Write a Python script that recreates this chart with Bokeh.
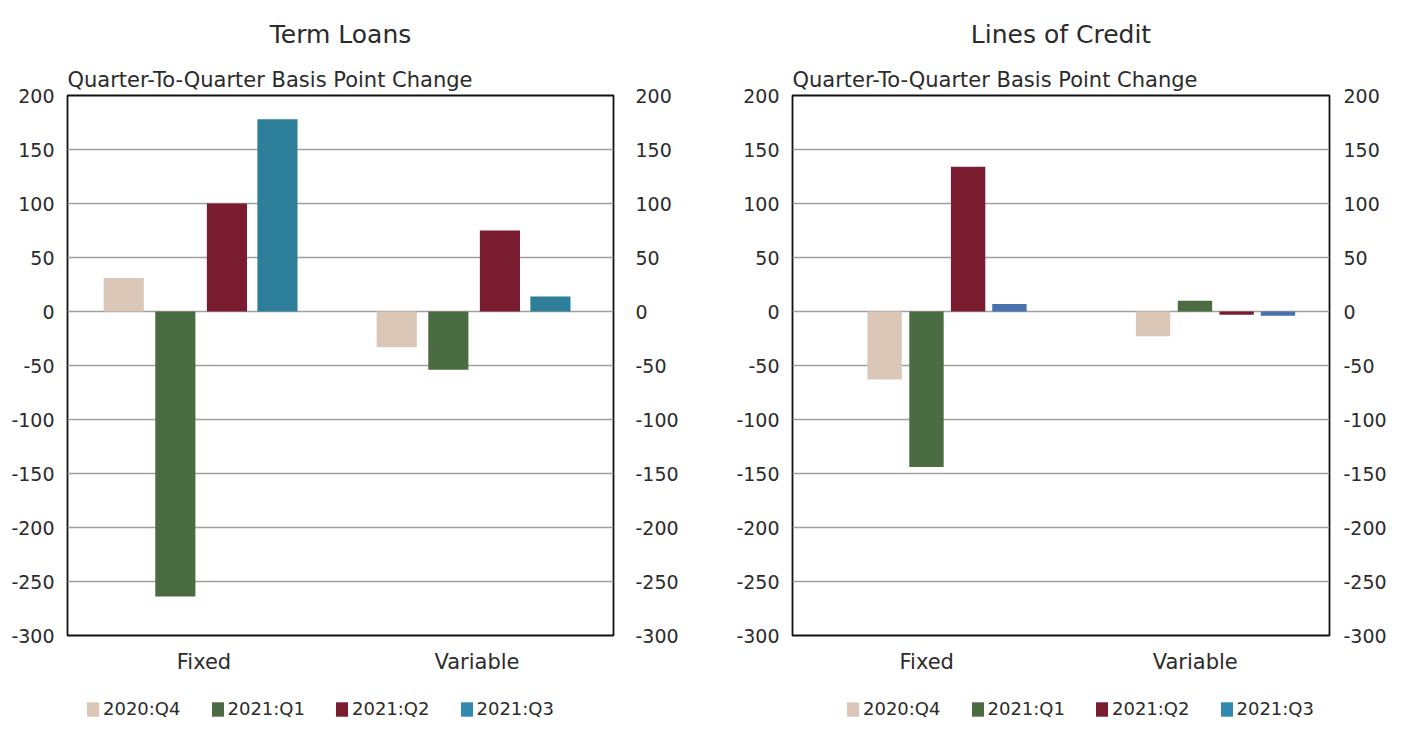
import numpy as np
from bokeh.plotting import figure
from bokeh.models import (ColumnDataSource, Range1d, FixedTicker, LinearAxis, Title,
                          Legend, LegendItem)
from bokeh.transform import dodge
from bokeh.layouts import row, column
from bokeh.embed import file_html
from bokeh.resources import INLINE

# ---------------- data ----------------
categories = ["Fixed", "Variable"]
quarters = ["2020:Q4", "2021:Q1", "2021:Q2", "2021:Q3"]

term_q4 = [31, -33]
term_q1 = [-264, -54]
term_q2 = [100, 75]
term_q3 = [178, 14]

loc_q4 = [-63, -23]
loc_q1 = [-144, 10]
loc_q2 = [134, -3]
loc_q3 = [7, -4]

y_ticks = [-300, -250, -200, -150, -100, -50, 0, 50, 100, 150, 200]
subtitle_text = "Quarter-To-Quarter Basis Point Change"

FONT = "DejaVu Sans"
TXT = "#2b2b2b"
C_Q4 = "#DAC7B8"
C_Q1 = "#4B6B42"
C_Q2 = "#7A1C2F"
C_Q3 = "#2D7E99"
C_Q3_LOC = "#4A70B0"
C_Q3_LEG = "#3289B0"
LEGEND_COLORS = [C_Q4, C_Q1, C_Q2, C_Q3_LEG]

MAIN_H = 687
LEG_H = 32


def make_panel(title, vals, width, bl, br, offsets, bar_w, q3_color, right_standoff):
    src = ColumnDataSource(dict(cat=categories, q4=vals[0], q1=vals[1], q2=vals[2], q3=vals[3]))
    p = figure(x_range=categories, y_range=Range1d(y_ticks[0], y_ticks[-1]),
               width=width, height=MAIN_H, output_backend="svg", toolbar_location=None,
               min_border_left=bl, min_border_right=br, min_border_top=95, min_border_bottom=52,
               title=None)
    p.add_layout(Title(text=subtitle_text, align="left", text_font=FONT, text_font_size="21px",
                       text_font_style="normal", text_color=TXT, standoff=7), "above")
    p.add_layout(Title(text=title, align="center", text_font=FONT, text_font_size="25px",
                       text_font_style="normal", text_color=TXT, standoff=28), "above")

    cols = ["q4", "q1", "q2", "q3"]
    colors = [C_Q4, C_Q1, C_Q2, q3_color]
    for c, off, col in zip(cols, offsets, colors):
        p.vbar(x=dodge("cat", off, range=p.x_range), top=c, bottom=0, width=bar_w,
               source=src, fill_color=col, line_color=None)

    ticker = FixedTicker(ticks=y_ticks)
    overrides = {t: str(t) for t in y_ticks}
    p.yaxis.ticker = ticker
    p.yaxis.major_label_overrides = overrides
    right = LinearAxis(ticker=ticker, major_label_overrides=overrides)
    p.add_layout(right, "right")

    for ax in p.yaxis + [right]:
        ax.axis_line_color = None
        ax.major_tick_line_color = None
        ax.minor_tick_line_color = None
        ax.major_label_text_font = FONT
        ax.major_label_text_font_size = "19px"
        ax.major_label_text_color = TXT
        ax.major_label_standoff = 7
    right.major_label_standoff = right_standoff

    xa = p.xaxis[0]
    xa.axis_line_color = None
    xa.major_tick_line_color = None
    xa.major_label_text_font = FONT
    xa.major_label_text_font_size = "21px"
    xa.major_label_text_color = TXT
    xa.major_label_standoff = 8

    p.xgrid.grid_line_color = None
    p.ygrid.ticker = ticker
    p.ygrid.grid_line_color = "#A0A0A0"
    p.ygrid.grid_line_width = 1.6
    p.outline_line_color = "#111111"
    p.outline_line_width = 1.8
    p.background_fill_color = "white"
    p.border_fill_color = "white"
    return p


def make_legend(width, bl, br, leg_x):
    lf = figure(width=width, height=LEG_H, output_backend="svg", toolbar_location=None,
                x_range=Range1d(0, 1), y_range=Range1d(0, 1),
                x_axis_type=None, y_axis_type=None,
                min_border_left=bl, min_border_right=br, min_border_top=0, min_border_bottom=0)
    lf.outline_line_color = None
    lf.xgrid.visible = False
    lf.ygrid.visible = False
    # legend swatches only: renderers hold no drawable point
    rends = [lf.vbar(x=np.array([np.nan]), top=np.array([np.nan]), width=0.1,
                     fill_color=c, line_color=None) for c in LEGEND_COLORS]
    items = [LegendItem(label=q, renderers=[r]) for q, r in zip(quarters, rends)]
    leg = Legend(items=items, orientation="horizontal", location=(leg_x, 0),
                 border_line_color=None, background_fill_alpha=0,
                 label_text_font=FONT, label_text_font_size="18px", label_text_color=TXT,
                 glyph_width=15, glyph_height=18, label_standoff=3, spacing=29,
                 padding=0, margin=0, label_height=16)
    lf.add_layout(leg)
    return lf


p1 = make_panel("Term Loans", [term_q4, term_q1, term_q2, term_q3], 696, 67, 83,
                [-0.294, -0.105, 0.084, 0.269], 0.147, C_Q3, 16)
p2 = make_panel("Lines of Credit", [loc_q4, loc_q1, loc_q2, loc_q3], 693, 96, 49,
                [-0.157, -0.001, 0.154, 0.308], 0.128, C_Q3_LOC, 8)
l1 = make_legend(696, 67, 83, 18)
l2 = make_legend(693, 96, 49, 53)

layout = column(row(p1, p2), row(l1, l2))
open("out.html", "w").write(file_html(layout, INLINE))
